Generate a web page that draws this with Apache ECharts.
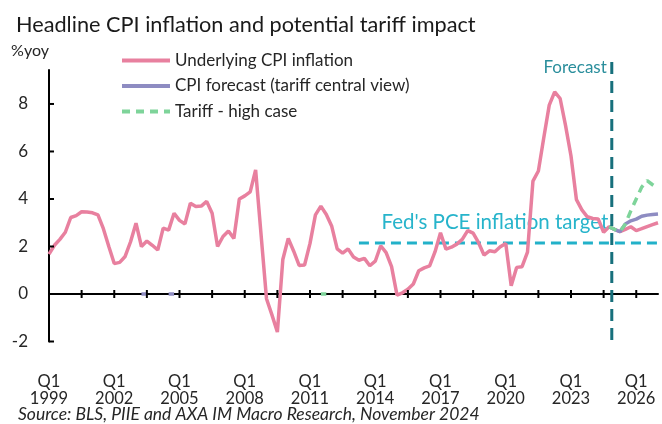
<!DOCTYPE html>
<html lang="en">
  <head>
    <meta charset="UTF-8" />
    <title>Headline CPI inflation and potential tariff impact</title>
    <script src="https://cdn.jsdelivr.net/npm/echarts@6/dist/echarts.min.js"></script>
    <style>
      html, body { margin: 0; padding: 0; background: #fff; }
      #app { width: 662px; height: 424px; }
    </style>
  </head>
  <body>
    <div id="app"></div>
    <script>
      // quarterly categories, 1999 Q1 .. 2027 Q1
      const quarters = [];
      for (let y = 1999; y <= 2027; y++) {
        for (let q = 1; q <= 4; q++) {
          if (quarters.length < 113) quarters.push("Q" + q + " " + y);
        }
      }

      const yTicks = [-2, 0, 2, 4, 6, 8];

      // underlying CPI, %yoy (actuals to 2024, then baseline)
      const cpi = [
        1.68, 2.05, 2.3, 2.6, 3.22, 3.3, 3.46, 3.45, 3.42, 3.33,
        2.75, 2.0, 1.28, 1.33, 1.58, 2.2, 2.98, 2.0, 2.23, 2.05,
        1.85, 2.77, 2.69, 3.4, 3.1, 2.95, 3.82, 3.68, 3.7, 3.9,
        3.4, 2.0, 2.42, 2.65, 2.34, 4.0, 4.13, 4.3, 5.22, 2.5,
        -0.2, -0.88, -1.6, 1.45, 2.34, 1.8, 1.2, 1.22, 2.13, 3.33,
        3.7, 3.35, 2.85, 1.9, 1.72, 1.9, 1.56, 1.42, 1.5, 1.19,
        1.38, 2.03, 1.74, 1.15, -0.05, 0.05, 0.2, 0.42, 0.98, 1.1,
        1.18, 1.78, 2.58, 1.89, 1.97, 2.1, 2.3, 2.67, 2.56, 2.16,
        1.64, 1.82, 1.78, 1.99, 2.13, 0.35, 1.12, 1.15, 1.76, 4.75,
        5.18, 6.59, 7.95, 8.51, 8.23, 7.09, 5.81, 3.97, 3.54, 3.25,
        3.18, 3.16, 2.6, 2.83, 2.72, 2.62, 2.72, 2.83, 2.67, 2.75,
        2.84, 2.92, 3.0
      ];

      // sparse series: null where nothing is drawn
      const blank = (n) => new Array(n).fill(null);

      const forecastCentral = blank(113);
      [17, 18, 22, 23].forEach((i) => (forecastCentral[i] = 0));
      [2.83, 2.72, 2.62, 2.95, 3.08, 3.15, 3.27, 3.32, 3.35, 3.37]
        .forEach((v, k) => (forecastCentral[103 + k] = v));

      const tariffHigh = blank(113);
      [50, 51].forEach((i) => (tariffHigh[i] = 0));
      [2.83, 2.72, 2.62, 2.95, 3.5, 4.0, 4.5, 4.77, 4.6, 4.45]
        .forEach((v, k) => (tariffHigh[103 + k] = v));

      const fedTarget = blank(113);
      for (let i = 57; i < 113; i++) fedTarget[i] = 2.15;

      // x ticks every 6 quarters, crossing the zero line
      const xTickIdx = [];
      for (let i = 0; i < quarters.length; i += 6) xTickIdx.push(i);

      const FONT = "Lato";
      const TXT = "#262626";
      const AX = { color: "#000", width: 2 };

      const chart = echarts.init(document.getElementById("app"));

      chart.setOption({
        animation: false,
        textStyle: { fontFamily: FONT, color: TXT },
        title: {
          text: "Headline CPI inflation and potential tariff impact",
          left: 11,
          top: 9,
          textStyle: { fontFamily: FONT, fontSize: 21.7, fontWeight: "normal", color: "#1a1a1a" },
        },
        legend: {
          data: ["Underlying CPI inflation", "CPI forecast (tariff central view)", "Tariff - high case"],
          orient: "vertical",
          left: 115,
          top: 47,
          itemWidth: 48,
          itemHeight: 14,
          itemGap: 8.5,
          selectedMode: false,
          itemStyle: { opacity: 0 },
          lineStyle: { width: 4 },
          textStyle: { fontFamily: FONT, fontSize: 17, color: TXT },
        },
        grid: { left: 49, right: 4, top: 70, bottom: 82.5 },
        xAxis: [
          {
            type: "category", data: quarters, boundaryGap: false,
            axisLine: { show: true, onZero: true, lineStyle: AX },
            axisTick: { show: false },
            axisLabel: { show: false },
            splitLine: { show: false },
          },
          {
            type: "category", data: quarters, boundaryGap: false, position: "bottom",
            axisLine: { show: false, onZero: false },
            axisTick: { show: false },
            axisLabel: {
              interval: 11,
              margin: 32,
              fontSize: 16.5,
              lineHeight: 17,
              color: TXT,
              formatter: (v) => v.replace(" ", "\n"),
            },
            splitLine: { show: false },
          },
        ],
        yAxis: {
          type: "value",
          min: -2,
          max: 9.43,
          interval: 2,
          name: "%yoy",
          nameLocation: "end",
          nameGap: 11,
          nameTextStyle: { align: "right", fontSize: 16, color: TXT, fontFamily: FONT },
          axisLine: { show: true, onZero: false, lineStyle: AX },
          axisTick: { show: false },
          axisLabel: { customValues: yTicks, margin: 21, fontSize: 17, color: TXT },
          splitLine: { show: false },
        },
        series: [
          {
            // tick marks drawn through the axes' own scales
            name: "xTicks",
            type: "custom",
            silent: true,
            z: 5,
            data: xTickIdx.map((i) => [quarters[i], 0]),
            renderItem: (params, api) => {
              const p = api.coord([api.value(0), api.value(1)]);
              return {
                type: "line",
                shape: { x1: p[0], y1: p[1] - 4, x2: p[0], y2: p[1] + 4 },
                style: { stroke: "#000", lineWidth: 2 },
              };
            },
          },
          {
            name: "yTicks",
            type: "custom",
            silent: true,
            z: 5,
            data: yTicks.map((v) => [quarters[0], v]),
            renderItem: (params, api) => {
              const p = api.coord([api.value(0), api.value(1)]);
              return {
                type: "line",
                shape: { x1: p[0], y1: p[1], x2: p[0] + 5, y2: p[1] },
                style: { stroke: "#000", lineWidth: 2 },
              };
            },
          },
          {
            name: "Fed's PCE inflation target",
            type: "line",
            data: fedTarget,
            symbol: "none",
            lineStyle: { color: "#22b1c9", width: 3, type: [10, 6] },
            z: 1,
          },
          {
            name: "Underlying CPI inflation",
            type: "line",
            data: cpi,
            symbol: "none",
            color: "#e8809f",
            lineStyle: { color: "#e8809f", width: 3.5 },
            z: 2,
          },
          {
            name: "CPI forecast (tariff central view)",
            type: "line",
            data: forecastCentral,
            symbol: "none",
            color: "#8e8cc2",
            lineStyle: { color: "#8e8cc2", width: 3.5 },
            z: 3,
          },
          {
            name: "Tariff - high case",
            type: "line",
            data: tariffHigh,
            symbol: "none",
            color: "#7ed49a",
            lineStyle: { color: "#7ed49a", width: 3.5, type: [8, 6] },
            z: 4,
          },
        ],
      });

      // label for the Fed target, placed over its line
      const tgt = chart.convertToPixel({ xAxisIndex: 0, yAxisIndex: 0 }, [quarters[82], 2.15]);
      // forecast divider sits between 2024 Q4 and 2025 Q1
      const fx = (chart.convertToPixel({ xAxisIndex: 0 }, quarters[103]) +
        chart.convertToPixel({ xAxisIndex: 0 }, quarters[104])) / 2;

      chart.setOption({
        graphic: [
          {
            type: "line",
            shape: { x1: fx, y1: 62, x2: fx, y2: 344 },
            style: { stroke: "#17707c", lineWidth: 3, lineDash: [12, 7] },
            z: 100,
          },
          {
            type: "text",
            x: fx - 5,
            y: 68,
            style: { text: "Forecast", fill: "#2a8e9c", font: "17px " + FONT, textAlign: "right", textVerticalAlign: "middle" },
          },
          {
            type: "text",
            x: tgt[0],
            y: tgt[1] - 21,
            style: { text: "Fed's PCE inflation target", fill: "#27b4cb", font: "20.5px " + FONT, textAlign: "center", textVerticalAlign: "middle" },
          },
          {
            type: "text",
            x: 18,
            y: 414,
            style: { text: "Source: BLS, PIIE and AXA IM Macro Research, November 2024", fill: TXT, font: "italic 17.5px " + FONT, textVerticalAlign: "middle" },
          },
        ],
      });
    </script>
  </body>
</html>
